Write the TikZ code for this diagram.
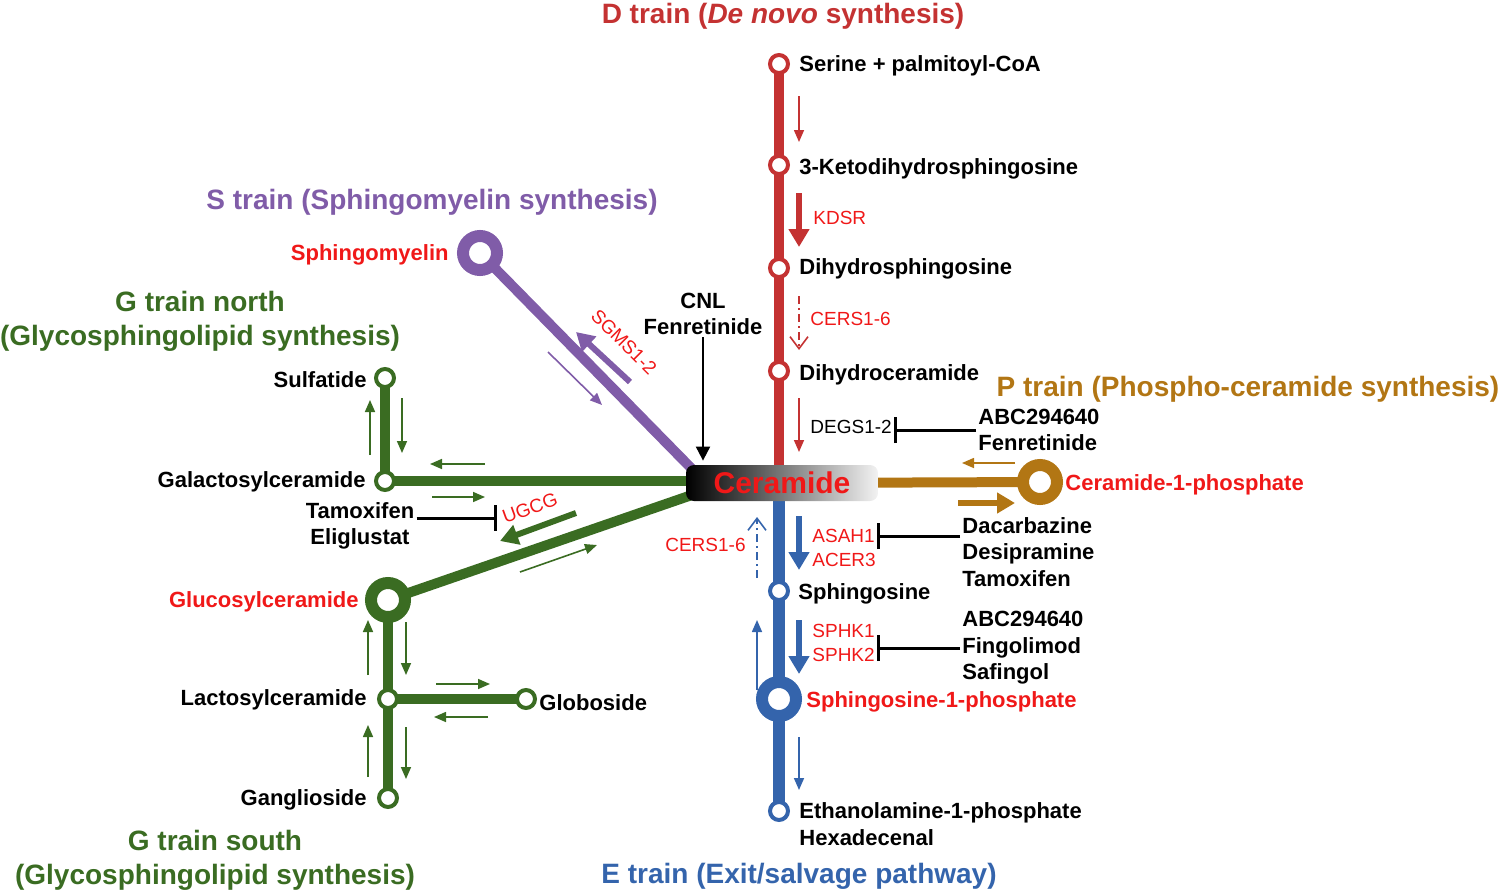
\documentclass[tikz,border=0pt]{standalone}
\usepackage{fontspec}
\setmainfont{Liberation Sans}
\usepackage{tikz}
\usetikzlibrary{positioning}
\usetikzlibrary{calc,arrows.meta,backgrounds}

\definecolor{dtrain}{RGB}{196,50,50}
\definecolor{strain}{RGB}{128,92,168}
\definecolor{gtrain}{RGB}{58,108,34}
\definecolor{etrain}{RGB}{52,100,172}
\definecolor{ptrain}{RGB}{178,118,20}
\definecolor{hitred}{RGB}{240,24,24}

\begin{document}
\begin{tikzpicture}[x=0.5pt, y=-0.5pt,
	stn/.style={circle, draw=#1, fill=white, line width=2pt, minimum size=9pt, inner sep=0pt},
	bigstn/.style={circle, draw=#1, fill=white, line width=6pt, minimum size=17pt, inner sep=0pt},
	track/.style={draw=#1, line width=5pt},
	lbl/.style={font=\fontsize{11}{13.3}\selectfont\bfseries, inner sep=1pt, align=left, yshift=-1pt},
	trainname/.style={font=\fontsize{14}{17}\selectfont\bfseries, text=#1, inner sep=0pt, align=center, yshift=-1pt},
	enz/.style={font=\fontsize{9.5}{11.7}\selectfont, text=hitred, inner sep=1pt, align=left},
	flow/.style={draw=#1, line width=0.8pt, -{Triangle[length=6pt,width=5pt]}},
	bigflow/.style={draw=#1, line width=3pt, -{Triangle[length=9pt,width=10pt]}},
	dashy/.style={draw=#1, line width=0.8pt, dash pattern=on 4pt off 2pt on 1pt off 2pt, -{Straight Barb[length=6pt,width=9pt]}},
	inhib/.style={draw=black, line width=1.5pt, -{Bar[width=13pt]}},
]
	\useasboundingbox (0,0) rectangle (1500,894);

	% the hub
	\node[rounded corners=4pt, minimum width=96pt, minimum height=18pt, inner sep=0pt,
		left color=black, middle color=black!45, right color=black!5,
		font=\fontsize{15}{18}\selectfont\bfseries, text=hitred] (cer) at (782,483) {Ceramide};

	% stations: D train (top) and E train (bottom)
	\node[stn=dtrain] (ser) at (779,64) {};
	\node[stn=dtrain] (keto) at (779,165) {};
	\node[stn=dtrain] (dhs) at (779,268) {};
	\node[stn=dtrain] (dhc) at (779,371) {};
	\node[stn=etrain] (sph) at (779,591) {};
	\node[bigstn=etrain] (s1p) at (779,699) {};
	\node[stn=etrain] (eth) at (779,811) {};

	% stations: P train, S train, G trains
	\node[bigstn=ptrain] (c1p) at (1040,482) {};
	\node[bigstn=strain] (sm) at (480,253) {};
	\node[stn=gtrain] (sulf) at (385,378) {};
	\node[stn=gtrain] (gal) at (385,481) {};
	\node[bigstn=gtrain] (gluc) at (388,600) {};
	\node[stn=gtrain] (lac) at (388,699) {};
	\node[stn=gtrain] (gang) at (388,798) {};
	\node[stn=gtrain] (glob) at (526,699) {};

	% tracks go underneath
	\begin{pgfonlayer}{background}
		\draw[track=dtrain] (ser.center) -- (ser |- cer.center);
		\draw[track=etrain, line width=6pt] (cer.center -| ser) -- (eth.center);
		\draw[track=ptrain] (cer.center) -- (c1p.center);
		\draw[track=strain] (sm.center) -- ([shift={(4pt,-3pt)}]cer.north west);
		\draw[track=gtrain] (gal.center) -- (gal -| cer.center);
		\draw[track=gtrain] (gal.center) -- (sulf.center);
		\draw[track=gtrain] (gluc.center) -- ([shift={(6pt,-5pt)}]cer.west);
		\draw[track=gtrain] (gluc.center) -- (gang.center);
		\draw[track=gtrain] (lac.center) -- (glob.center);
	\end{pgfonlayer}

	% line names
	\node[trainname=dtrain] (tD) at (783,14) {D train (\textit{De novo} synthesis)};
	\node[trainname=strain] (tS) at (432,200) {S train (Sphingomyelin synthesis)};
	\node[trainname=gtrain] (tGN) at (200,319) {G train north\\(Glycosphingolipid synthesis)};
	\node[trainname=gtrain] (tGS) at (215,858) {G train south\\(Glycosphingolipid synthesis)};
	\node[trainname=etrain] (tE) at (799,874) {E train (Exit/salvage pathway)};
	\node[trainname=ptrain] (tP) at (1248,387) {P train (Phospho-ceramide synthesis)};

	% station names
	\node[lbl, anchor=west] at (797,64) {Serine + palmitoyl-CoA};
	\node[lbl, anchor=west] at (797,167) {3-Ketodihydrosphingosine};
	\node[lbl, anchor=west] at (797,267) {Dihydrosphingosine};
	\node[lbl, anchor=west] at (797,373) {Dihydroceramide};
	\node[lbl, anchor=west] at (796,592) {Sphingosine};
	\node[lbl, anchor=west, text=hitred] at (804,700) {Sphingosine-1-phosphate};
	\node[lbl, anchor=west] at (797,822) {Ethanolamine-1-phosphate\\Hexadecenal};
	\node[lbl, anchor=west, text=hitred] at (1063,483) {Ceramide-1-phosphate};
	\node[lbl, anchor=east, text=hitred] at (451,253) {Sphingomyelin};
	\node[lbl, anchor=east] at (369,378) {Sulfatide};
	\node[lbl, anchor=east] at (368,480) {Galactosylceramide};
	\node[lbl, anchor=east, text=hitred] at (361,600) {Glucosylceramide};
	\node[lbl, anchor=east] at (369,698) {Lactosylceramide};
	\node[lbl, anchor=east] at (369,798) {Ganglioside};
	\node[lbl, anchor=west] at (537,701) {Globoside};

	% drugs
	\node[lbl, align=center] (cnl) at (703,312) {CNL\\Fenretinide};
	\node[lbl, anchor=west] (abc1) at (976,428) {ABC294640\\Fenretinide};
	\node[lbl, anchor=west] (dac) at (960,550) {Dacarbazine\\Desipramine\\Tamoxifen};
	\node[lbl, anchor=west] (abc2) at (960,646) {ABC294640\\Fingolimod\\Safingol};
	\node[lbl, align=center] (tam) at (360,524) {Tamoxifen\\Eliglustat};

	% enzymes
	\node[enz, anchor=west] (kdsr) at (811,218) {KDSR};
	\node[enz, anchor=west] (cersA) at (808,319) {CERS1-6};
	\node[enz, anchor=west, text=black] (degs) at (808,427) {DEGS1-2};
	\node[enz, anchor=west] (asah1) at (810,536) {ASAH1};
	\node[enz, anchor=west] (acer3) at (810,560) {ACER3};
	\node[enz, anchor=west] (sphk) at (810,643) {SPHK1\\SPHK2};
	\node[enz, anchor=east] (cersB) at (748,545) {CERS1-6};
	\node[enz, rotate=20] (ugcg) at (530,508) {UGCG};
	\node[enz, rotate=-45] (sgms) at (624,342) {SGMS1-2};

	% arrow ends
	\coordinate (d1a) at (799,96);   \coordinate (d1b) at (799,142);
	\coordinate (d2a) at (799,193);  \coordinate (d2b) at (799,247);
	\coordinate (d3a) at (799,296);  \coordinate (d3b) at (799,350);
	\coordinate (d4a) at (799,398);  \coordinate (d4b) at (799,452);
	\coordinate (e1a) at (799,516);  \coordinate (e1b) at (799,570);
	\coordinate (e2a) at (757,578);  \coordinate (e2b) at (757,517);
	\coordinate (e3a) at (799,620);  \coordinate (e3b) at (799,674);
	\coordinate (e4a) at (757,690);  \coordinate (e4b) at (757,620);
	\coordinate (e5a) at (799,737);  \coordinate (e5b) at (799,790);
	\coordinate (p1a) at (1015,463); \coordinate (p1b) at (962,463);
	\coordinate (p2a) at (958,503);  \coordinate (p2b) at (1015,503);
	\coordinate (s1a) at (630,382);  \coordinate (s1b) at (576,332);
	\coordinate (s2a) at (548,352);  \coordinate (s2b) at (602,405);
	\coordinate (n1a) at (485,464);  \coordinate (n1b) at (430,464);
	\coordinate (n2a) at (432,497);  \coordinate (n2b) at (485,497);
	\coordinate (n3a) at (370,455);  \coordinate (n3b) at (370,400);
	\coordinate (n4a) at (402,398);  \coordinate (n4b) at (402,453);
	\coordinate (u1a) at (576,513);  \coordinate (u1b) at (500,541);
	\coordinate (u2a) at (520,572);  \coordinate (u2b) at (597,545);
	\coordinate (g1a) at (368,675);  \coordinate (g1b) at (368,620);
	\coordinate (g2a) at (406,622);  \coordinate (g2b) at (406,675);
	\coordinate (g3a) at (436,684);  \coordinate (g3b) at (490,684);
	\coordinate (g4a) at (488,717);  \coordinate (g4b) at (434,717);
	\coordinate (g5a) at (368,777);  \coordinate (g5b) at (368,725);
	\coordinate (g6a) at (406,727);  \coordinate (g6b) at (406,779);
	\coordinate (ugcgbar) at (497,518);

	% D train
	\draw[flow=dtrain] (d1a) -- (d1b);
	\draw[bigflow=dtrain] (d2a) -- (d2b);
	\draw[dashy=dtrain] (d3a) -- (d3b);
	\draw[flow=dtrain] (d4a) -- (d4b);
	\draw[inhib] (abc1.west) -- (abc1.west -| degs.east);
	\draw[black, line width=1pt, -{Triangle[length=7pt,width=7pt]}] (cnl) -- ([yshift=2pt]cnl |- cer.north);

	% E train
	\draw[bigflow=etrain] (e1a) -- (e1b);
	\draw[dashy=etrain] (e2a) -- (e2b);
	\draw[bigflow=etrain] (e3a) -- (e3b);
	\draw[flow=etrain] (e4a) -- (e4b);
	\draw[flow=etrain] (e5a) -- (e5b);
	\draw[inhib] (dac.west |- asah1) -- (asah1.east);
	\draw[inhib] (abc2.west) -- (abc2.west -| sphk.east);

	% P train
	\draw[flow=ptrain] (p1a) -- (p1b);
	\draw[bigflow=ptrain] (p2a) -- (p2b);

	% S train
	\draw[bigflow=strain] (s1a) -- (s1b);
	\draw[flow=strain] (s2a) -- (s2b);

	% G train north
	\draw[flow=gtrain] (n1a) -- (n1b);
	\draw[flow=gtrain] (n2a) -- (n2b);
	\draw[flow=gtrain] (n3a) -- (n3b);
	\draw[flow=gtrain] (n4a) -- (n4b);

	% G train south
	\draw[bigflow=gtrain] (u1a) -- (u1b);
	\draw[flow=gtrain] (u2a) -- (u2b);
	\draw[inhib] (tam.east |- ugcgbar) -- (ugcgbar);
	\draw[flow=gtrain] (g1a) -- (g1b);
	\draw[flow=gtrain] (g2a) -- (g2b);
	\draw[flow=gtrain] (g3a) -- (g3b);
	\draw[flow=gtrain] (g4a) -- (g4b);
	\draw[flow=gtrain] (g5a) -- (g5b);
	\draw[flow=gtrain] (g6a) -- (g6b);

\end{tikzpicture}
\end{document}
